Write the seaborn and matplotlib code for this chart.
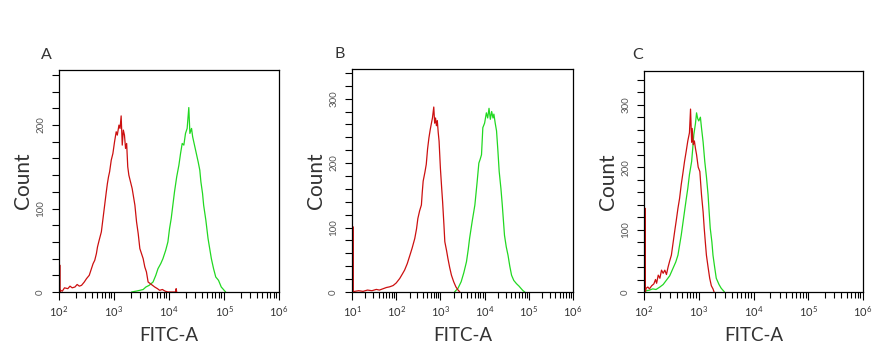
import numpy as np
import pandas as pd
import matplotlib
matplotlib.use("Agg")
import matplotlib.pyplot as plt
import seaborn as sns
from matplotlib.ticker import MultipleLocator, LogLocator, LogFormatterSciNotation, NullFormatter

# ---------------- data (log10 of FITC-A, counts) ----------------
A_red_x = [2.02, 2.02, 2.03, 2.06, 2.10, 2.16, 2.20, 2.24, 2.29, 2.33, 2.37, 2.41, 2.46, 2.50, 2.55,
           2.59, 2.62, 2.65, 2.68, 2.70, 2.73, 2.77, 2.80, 2.83, 2.86, 2.88, 2.90, 2.92, 2.95, 2.98,
           3.01, 3.04, 3.06, 3.09, 3.11, 3.13, 3.15, 3.17, 3.19, 3.21, 3.23, 3.25, 3.27, 3.30, 3.33,
           3.36, 3.38, 3.41, 3.44, 3.47, 3.50, 3.53, 3.56, 3.59, 3.62, 3.66, 3.70, 3.74, 3.79, 3.83,
           3.88, 3.93, 3.98, 4.05, 4.12, 4.13, 4.14]
A_red_y = [32, 0, 2, 1, 5, 4, 7, 5, 6, 9, 7, 8, 12, 16, 20,
           28, 34, 38, 46, 54, 62, 72, 88, 104, 120, 130, 138, 144, 158, 166,
           180, 192, 188, 200, 196, 211, 176, 194, 188, 172, 178, 150, 140, 132, 124,
           112, 104, 84, 70, 52, 46, 40, 30, 24, 12, 10, 8, 6, 4, 2,
           3, 1, 0, 0, 0, 4, 0]

A_green_x = [3.32, 3.40, 3.47, 3.53, 3.58, 3.64, 3.71, 3.76, 3.80, 3.85, 3.89, 3.94, 3.98, 4.01, 4.04,
             4.07, 4.10, 4.14, 4.18, 4.21, 4.24, 4.27, 4.30, 4.33, 4.36, 4.38, 4.41, 4.43, 4.45, 4.49,
             4.53, 4.56, 4.58, 4.61, 4.63, 4.67, 4.71, 4.74, 4.77, 4.81, 4.85, 4.90, 4.95, 4.99, 5.03]
A_green_y = [0, 1, 2, 3, 6, 8, 12, 20, 28, 34, 40, 50, 60, 76, 88,
             104, 120, 138, 152, 166, 178, 176, 190, 196, 221, 190, 196, 186, 180, 168,
             156, 146, 132, 118, 104, 86, 64, 52, 40, 28, 18, 14, 6, 3, 0]

B_red_x = [1.03, 1.03, 1.06, 1.15, 1.25, 1.35, 1.45, 1.55, 1.62, 1.70, 1.78, 1.85, 1.93, 2.00, 2.08,
           2.14, 2.19, 2.25, 2.31, 2.36, 2.42, 2.46, 2.49, 2.53, 2.57, 2.59, 2.61, 2.65, 2.68, 2.71,
           2.74, 2.77, 2.80, 2.82, 2.85, 2.87, 2.89, 2.91, 2.93, 2.95, 2.97, 3.00, 3.03, 3.05, 3.08,
           3.10, 3.14, 3.17, 3.21, 3.25, 3.30, 3.35, 3.40, 3.44]
B_red_y = [101, 0, 1, 2, 1, 3, 2, 4, 3, 5, 7, 8, 10, 14, 21,
           28, 34, 44, 57, 68, 83, 98, 114, 126, 135, 155, 172, 186, 198, 222,
           239, 252, 263, 270, 287, 262, 270, 258, 266, 248, 234, 192, 160, 140, 104,
           78, 64, 52, 38, 26, 16, 8, 3, 0]

B_green_x = [3.32, 3.40, 3.47, 3.53, 3.59, 3.63, 3.66, 3.72, 3.78, 3.83, 3.87, 3.90, 3.93, 3.96, 4.00,
             4.04, 4.07, 4.10, 4.13, 4.16, 4.19, 4.21, 4.24, 4.27, 4.30, 4.33, 4.37, 4.40, 4.45, 4.49,
             4.53, 4.57, 4.61, 4.66, 4.72, 4.78, 4.83, 4.87, 4.91]
B_green_y = [0, 6, 16, 30, 47, 66, 83, 110, 135, 170, 200, 206, 213, 255, 262,
             278, 270, 285, 268, 280, 270, 276, 262, 250, 220, 187, 160, 135, 88, 70,
             57, 40, 26, 18, 13, 9, 5, 2, 0]

C_red_x = [2.025, 2.025, 2.04, 2.07, 2.10, 2.14, 2.18, 2.21, 2.23, 2.26, 2.29, 2.32, 2.35, 2.38, 2.41,
           2.44, 2.47, 2.50, 2.53, 2.56, 2.59, 2.62, 2.65, 2.68, 2.71, 2.74, 2.77, 2.80, 2.83, 2.85,
           2.87, 2.88, 2.90, 2.92, 2.94, 2.96, 2.99, 3.02, 3.05, 3.08, 3.10, 3.12, 3.14, 3.17, 3.20,
           3.23, 3.26, 3.28]
C_red_y = [134, 0, 6, 8, 5, 10, 13, 20, 14, 27, 22, 35, 30, 35, 28,
           40, 50, 59, 78, 97, 115, 134, 150, 172, 190, 209, 225, 242, 255, 293,
           240, 262, 236, 242, 230, 220, 200, 193, 156, 128, 102, 80, 59, 40, 22,
           10, 5, 0]

C_green_x = [2.02, 2.02, 2.04, 2.10, 2.16, 2.22, 2.29, 2.35, 2.41, 2.47, 2.53, 2.58, 2.62, 2.65, 2.68,
             2.71, 2.74, 2.77, 2.80, 2.83, 2.87, 2.89, 2.91, 2.94, 2.96, 2.98, 3.00, 3.03, 3.05, 3.08,
             3.11, 3.14, 3.17, 3.19, 3.21, 3.24, 3.26, 3.29, 3.32, 3.37, 3.41, 3.44, 3.47]
C_green_y = [38, 0, 2, 3, 5, 4, 8, 12, 19, 26, 38, 48, 59, 75, 91,
             110, 129, 148, 166, 188, 209, 230, 252, 270, 287, 278, 274, 280, 263, 240,
             209, 185, 156, 128, 102, 80, 59, 40, 22, 12, 6, 3, 0]

panel_labels = ["A", "B", "C"]
x_label = "FITC-A"
y_label = "Count"

# ---------------- styling ----------------
sns.set_style("ticks")
plt.rcParams["font.family"] = ["Lato", "DejaVu Sans"]

RED = "#cc1010"
GREEN = "#22d822"

fig = plt.figure(figsize=(8.82, 3.63), dpi=100)

W, H = 882.0, 363.0
boxes = [(59, 70, 279, 292), (352, 69, 573, 292), (644, 71, 863, 292)]
xlims = [(1e2, 1e6), (1e1, 1e6), (1e2, 1e6)]
ylims = [266, 346, 354]
label_pos = [(46, 55), (340, 54), (638, 55)]
series = [
    (A_red_x, A_red_y, A_green_x, A_green_y),
    (B_red_x, B_red_y, B_green_x, B_green_y),
    (C_red_x, C_red_y, C_green_x, C_green_y),
]

for i, (box, xl, yl, s, lab, lp) in enumerate(zip(boxes, xlims, ylims, series, panel_labels, label_pos)):
    x0, y0, x1, y1 = box
    ax = fig.add_axes([x0 / W, (H - y1) / H, (x1 - x0) / W, (y1 - y0) / H])
    rx, ry, gx, gy = s
    dg = pd.DataFrame({"x": 10 ** np.array(gx), "y": gy})
    dr = pd.DataFrame({"x": 10 ** np.array(rx), "y": ry})
    sns.lineplot(data=dg, x="x", y="y", sort=False, estimator=None, color=GREEN, lw=0.9, ax=ax)
    sns.lineplot(data=dr, x="x", y="y", sort=False, estimator=None, color=RED, lw=0.9, ax=ax)
    ax.set_xscale("log")
    ax.set_xlim(*xl)
    ax.set_ylim(0, yl)
    ax.xaxis.set_major_locator(LogLocator(base=10, numticks=10))
    ax.xaxis.set_minor_locator(LogLocator(base=10, subs=np.arange(2, 10), numticks=20))
    ax.xaxis.set_major_formatter(LogFormatterSciNotation())
    ax.xaxis.set_minor_formatter(NullFormatter())
    ax.yaxis.set_major_locator(MultipleLocator(100))
    ax.yaxis.set_minor_locator(MultipleLocator(20))
    for sp in ax.spines.values():
        sp.set_visible(True)
        sp.set_linewidth(0.9)
        sp.set_color("black")
    ax.tick_params(axis="both", which="both", direction="out", color="black",
                   top=False, right=False, width=0.8)
    ax.tick_params(axis="x", which="major", length=6, labelsize=8, pad=3, labelcolor="#333333")
    ax.tick_params(axis="x", which="minor", length=4)
    ax.tick_params(axis="y", which="major", length=5, labelsize=7, pad=5, labelcolor="#555555")
    ax.tick_params(axis="y", which="minor", length=5)
    for t in ax.get_yticklabels():
        t.set_rotation(90)
        t.set_va("center")
    ax.set_xlabel(x_label, fontsize=13.5, color="#333333", labelpad=6)
    ax.set_ylabel(y_label, fontsize=15, color="#333333", labelpad=2)
    fig.text(lp[0] / W, 1 - lp[1] / H, lab, fontsize=11.5, color="#333333",
             ha="center", va="center")

fig.savefig("out.png", dpi=100)
